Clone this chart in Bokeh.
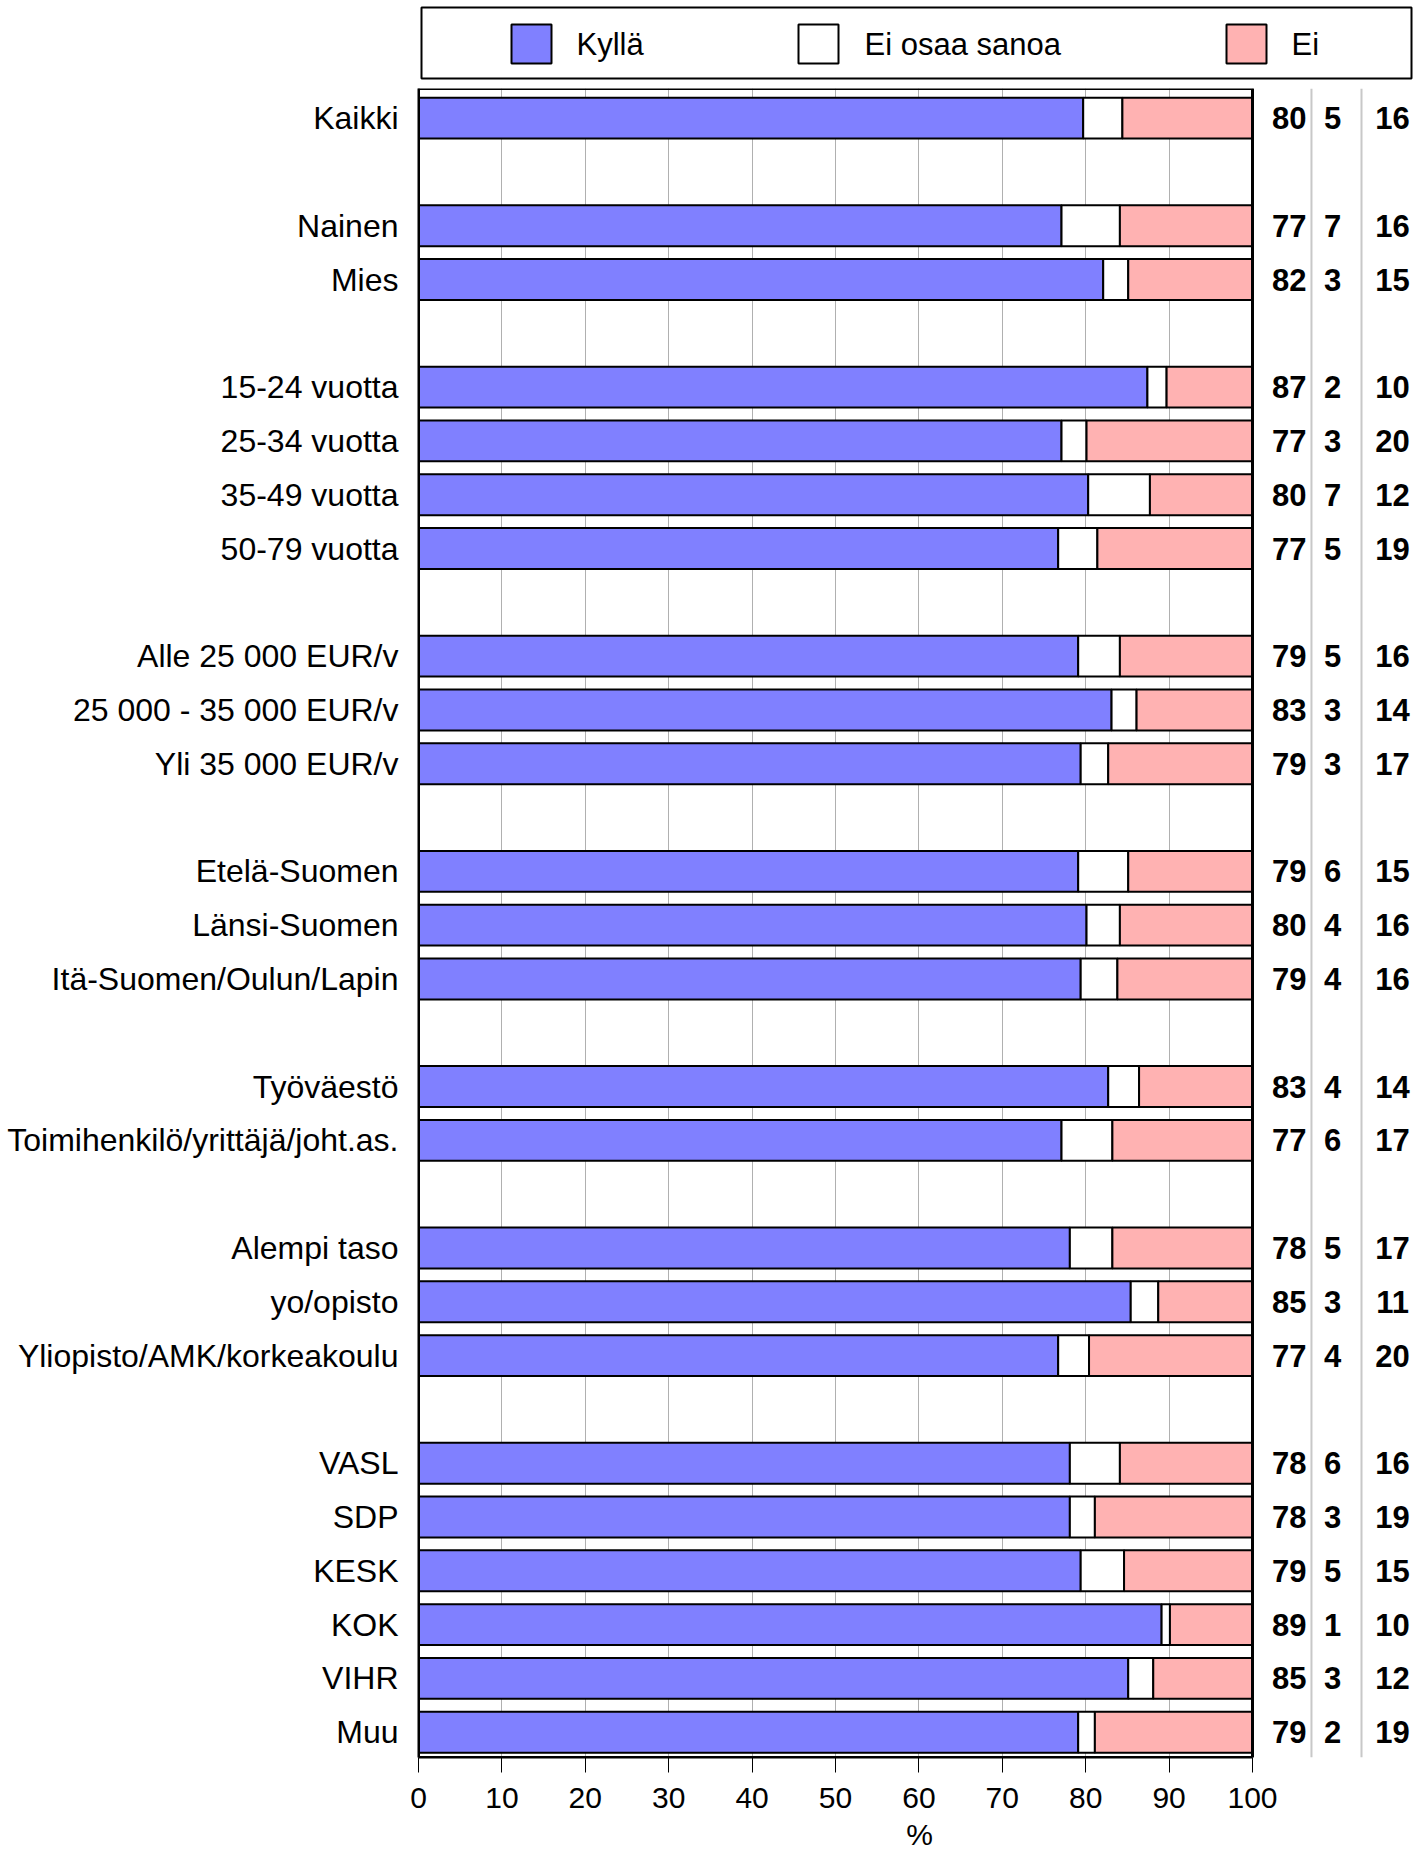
from bokeh.plotting import figure
from bokeh.models import Range1d, FixedTicker, ColumnDataSource
from bokeh.layouts import column
from bokeh.core.properties import value
from bokeh.embed import file_html
from bokeh.resources import INLINE

# ---------------- data ----------------
groups = [
    ["Kaikki"],
    ["Nainen", "Mies"],
    ["15-24 vuotta", "25-34 vuotta", "35-49 vuotta", "50-79 vuotta"],
    ["Alle 25 000 EUR/v", "25 000 - 35 000 EUR/v", "Yli 35 000 EUR/v"],
    ["Etelä-Suomen", "Länsi-Suomen", "Itä-Suomen/Oulun/Lapin"],
    ["Työväestö", "Toimihenkilö/yrittäjä/joht.as."],
    ["Alempi taso", "yo/opisto", "Yliopisto/AMK/korkeakoulu"],
    ["VASL", "SDP", "KESK", "KOK", "VIHR", "Muu"],
]
series = ["Kyllä", "Ei osaa sanoa", "Ei"]

# bar lengths
kylla = [79.7, 77.1, 82.1, 87.4, 77.1, 80.3, 76.7, 79.1, 83.1, 79.4, 79.1, 80.1,
         79.4, 82.7, 77.1, 78.1, 85.4, 76.7, 78.1, 78.1, 79.4, 89.1, 85.1, 79.1]
eos = [4.7, 7.0, 3.0, 2.3, 3.0, 7.4, 4.7, 5.0, 3.0, 3.3, 6.0, 4.0,
       4.4, 3.7, 6.1, 5.1, 3.3, 3.7, 6.0, 3.0, 5.2, 1.0, 3.0, 2.0]
ei = [15.6, 15.9, 14.9, 10.3, 19.9, 12.3, 18.6, 15.9, 13.9, 17.3, 14.9, 15.9,
      16.2, 13.6, 16.8, 16.8, 11.3, 19.6, 15.9, 18.9, 15.4, 9.9, 11.9, 18.9]

# printed (rounded) values
kylla_lbl = [80, 77, 82, 87, 77, 80, 77, 79, 83, 79, 79, 80, 79, 83, 77, 78, 85, 77, 78, 78, 79, 89, 85, 79]
eos_lbl = [5, 7, 3, 2, 3, 7, 5, 5, 3, 3, 6, 4, 4, 4, 6, 5, 3, 4, 6, 3, 5, 1, 3, 2]
ei_lbl = [16, 16, 15, 10, 20, 12, 19, 16, 14, 17, 15, 16, 16, 14, 17, 17, 11, 20, 16, 19, 15, 10, 12, 19]

x_ticks = [0, 10, 20, 30, 40, 50, 60, 70, 80, 90, 100]

# ---------------- layout helpers ----------------
colors = ["#8080FF", "#FFFFFF", "#FFB2B2"]
FONT = value("Liberation Sans")

labels = []
pos = []
p_i = 0
for g in groups:
    for name in g:
        labels.append(name)
        pos.append(p_i)
        p_i += 1
    p_i += 1
n_slots = p_i - 1  # 31 slots: 0..30

FIG_W = 1420
LEFT = 418
Y_TOP = -0.55
Y_BOT = n_slots - 1 + 0.47
FRAME_W = FIG_W - LEFT
X_MAX = 100 * FRAME_W / 834.0

src = ColumnDataSource(dict(
    pos=pos, kylla=kylla, eos=eos, ei=ei,
    kl=[str(v) for v in kylla_lbl],
    el=[str(v) for v in eos_lbl],
    il=[str(v) for v in ei_lbl],
))

# ---------------- legend figure (frame = same borders as the main plot) ----------------
lg = figure(width=FIG_W, height=80, x_range=Range1d(0, FRAME_W), y_range=Range1d(0, 80),
            min_border_left=LEFT, min_border_right=0, min_border_top=0, min_border_bottom=0,
            output_backend="svg", toolbar_location=None)
lg.axis.visible = False
lg.grid.visible = False
lg.outline_line_color = None
lg.background_fill_color = "white"
lg.border_fill_color = "white"
lg.quad(left=3, right=993, top=73, bottom=2, fill_color="white",
        line_color="black", line_width=2)
lg.rect(x=[113, 400, 828], y=36.5, width=40, height=39, fill_color=colors,
        line_color="black", line_width=2)
lg.text(x=[158, 446, 873], y=[36.5] * 3, text=series, text_font=FONT,
        text_font_size="31px", text_align="left", text_baseline="middle", text_color="black")

# ---------------- main figure ----------------
p = figure(width=FIG_W, height=1774, x_range=Range1d(0, X_MAX), y_range=Range1d(Y_BOT, Y_TOP),
           min_border_left=LEFT, min_border_right=0, min_border_top=8, min_border_bottom=97,
           output_backend="svg", toolbar_location=None)
p.outline_line_color = None
p.background_fill_color = "white"
p.border_fill_color = "white"

p.hbar_stack(["kylla", "eos", "ei"], y="pos", height=0.76, source=src,
             fill_color=colors, line_color="black", line_width=2)

# frame top / right
p.quad(left=0, right=100, top=Y_TOP, bottom=Y_BOT, fill_color=None,
       line_color="black", line_width=3)

# separators of the number columns
p.segment(x0=[107.07, 113.07], y0=[Y_TOP] * 2, x1=[107.07, 113.07], y1=[Y_BOT] * 2,
          line_color="#C8C8C8", line_width=2)

# numbers
for xc, col in [(104.4, "kl"), (109.6, "el"), (116.8, "il")]:
    p.text(x=xc, y="pos", text=col, source=src, text_font=FONT, text_font_style="bold",
           text_font_size="31px", text_align="center", text_baseline="middle", text_color="black")

# x axis
p.xaxis.ticker = FixedTicker(ticks=x_ticks)
p.xaxis.bounds = (0, 100)
p.xaxis.axis_line_width = 2
p.xaxis.axis_line_color = "black"
p.xaxis.major_tick_out = 15
p.xaxis.major_tick_in = 0
p.xaxis.minor_tick_out = 0
p.xaxis.minor_tick_in = 0
p.xaxis.major_tick_line_color = "black"
p.xaxis.major_label_text_font = "Liberation Sans"
p.xaxis.major_label_text_font_size = "30px"
p.xaxis.major_label_text_color = "black"
p.xaxis.major_label_standoff = 15
p.xaxis.axis_label = "%"
p.xaxis.axis_label_text_font = "Liberation Sans"
p.xaxis.axis_label_text_font_size = "30px"
p.xaxis.axis_label_text_font_style = "normal"
p.xaxis.axis_label_text_color = "black"
p.xaxis.axis_label_standoff = 7

p.xgrid.grid_line_color = "#B0B0B0"
p.xgrid.grid_line_width = 1
p.ygrid.grid_line_color = None

# y axis
p.yaxis.ticker = FixedTicker(ticks=pos)
p.yaxis.major_label_overrides = {pp: nm for pp, nm in zip(pos, labels)}
p.yaxis.axis_line_width = 2
p.yaxis.axis_line_color = "black"
p.yaxis.major_tick_out = 0
p.yaxis.major_tick_in = 0
p.yaxis.minor_tick_out = 0
p.yaxis.minor_tick_in = 0
p.yaxis.major_label_text_font = "Liberation Sans"
p.yaxis.major_label_text_font_size = "32px"
p.yaxis.major_label_text_color = "black"
p.yaxis.major_label_standoff = 20

layout = column(lg, p, spacing=0)

open("out.html", "w").write(file_html(layout, INLINE))
